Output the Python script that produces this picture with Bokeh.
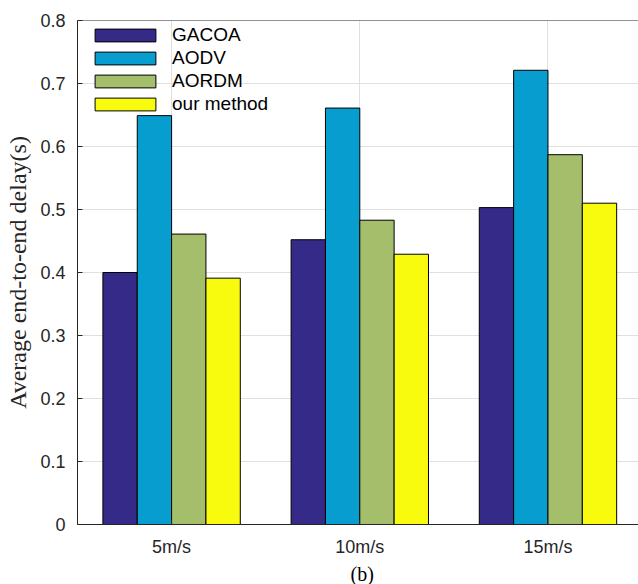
from bokeh.plotting import figure
from bokeh.models import (ColumnDataSource, Range1d, FixedTicker, Span, Legend,
                          LegendItem, Title)
from bokeh.transform import dodge
from bokeh.embed import file_html
from bokeh.resources import INLINE

# Average end-to-end delay (s) per node speed
speeds = ["5m/s", "10m/s", "15m/s"]
gacoa = [0.400, 0.452, 0.503]
aodv = [0.649, 0.661, 0.721]
aordm = [0.461, 0.483, 0.587]
ours = [0.391, 0.429, 0.510]

series_names = ["GACOA", "AODV", "AORDM", "our method"]
series_colors = ["#352a87", "#079dcf", "#a5be6b", "#f9fb0e"]

y_ticks = [0, 0.1, 0.2, 0.3, 0.4, 0.5, 0.6, 0.7, 0.8]
y_tick_labels = ["0", "0.1", "0.2", "0.3", "0.4", "0.5", "0.6", "0.7", "0.8"]

xpos = list(range(1, len(speeds) + 1))
source = ColumnDataSource(dict(x=xpos, gacoa=gacoa, aodv=aodv, aordm=aordm, ours=ours))
cols = ["gacoa", "aodv", "aordm", "ours"]

bar_w = 0.1825
axis_col = "#262626"

p = figure(frame_width=561, frame_height=504,
           min_border_left=77, min_border_right=0, min_border_top=20, min_border_bottom=60,
           x_range=Range1d(0.5, 3.481), y_range=Range1d(0, 0.8),
           output_backend="svg", toolbar_location=None)
p.outline_line_color = None
p.background_fill_color = "white"
p.border_fill_color = "white"

items = []
for i, (name, col, color) in enumerate(zip(series_names, cols, series_colors)):
    off = (i - 1.5) * bar_w
    r = p.vbar(x=dodge("x", off, range=p.x_range), top=col, width=bar_w, bottom=0,
               source=source, fill_color=color, line_color="black", line_width=1)
    items.append(LegendItem(label=name, renderers=[r]))

# closing line along the top of the box
p.add_layout(Span(location=0.8, dimension="width", line_color=axis_col, line_width=1))

# axes
p.xaxis.ticker = FixedTicker(ticks=xpos)
p.xaxis.major_label_overrides = {x: s for x, s in zip(xpos, speeds)}
p.yaxis.ticker = FixedTicker(ticks=y_ticks)
p.yaxis.major_label_overrides = {t: s for t, s in zip(y_ticks, y_tick_labels)}
for ax in (p.xaxis[0], p.yaxis[0]):
    ax.axis_line_color = axis_col
    ax.axis_line_width = 1
    ax.major_tick_in = 5
    ax.major_tick_out = 0
    ax.major_tick_line_color = axis_col
    ax.minor_tick_line_color = None
    ax.major_label_text_font = "Liberation Sans"
    ax.major_label_text_font_size = "18px"
    ax.major_label_text_color = axis_col
p.xaxis.major_label_standoff = 12
p.yaxis.major_label_standoff = 12

p.yaxis.axis_label = "Average end-to-end delay(s)"
p.yaxis.axis_label_text_font = "Liberation Serif"
p.yaxis.axis_label_text_font_size = "24px"
p.yaxis.axis_label_text_font_style = "normal"
p.yaxis.axis_label_text_color = axis_col
p.yaxis.axis_label_standoff = 6

# grid
p.xgrid.ticker = FixedTicker(ticks=xpos)
p.ygrid.ticker = FixedTicker(ticks=y_ticks)
for g in (p.xgrid[0], p.ygrid[0]):
    g.grid_line_color = "#e0e0e0"
    g.grid_line_width = 1

# caption under the axis
p.add_layout(Title(text="(b)", align="left", offset=273, text_font="Liberation Serif",
                   text_font_size="20px", text_font_style="normal", text_color="black",
                   standoff=2), "below")

legend = Legend(items=items, location=(10, 409), margin=0, padding=0,
                glyph_width=76, glyph_height=16, label_height=22, spacing=1,
                label_standoff=9, label_text_font="Liberation Sans",
                label_text_font_size="19px", label_text_color="black",
                border_line_color=None, background_fill_alpha=0)
p.add_layout(legend)

open("out.html", "w").write(file_html(p, INLINE))
